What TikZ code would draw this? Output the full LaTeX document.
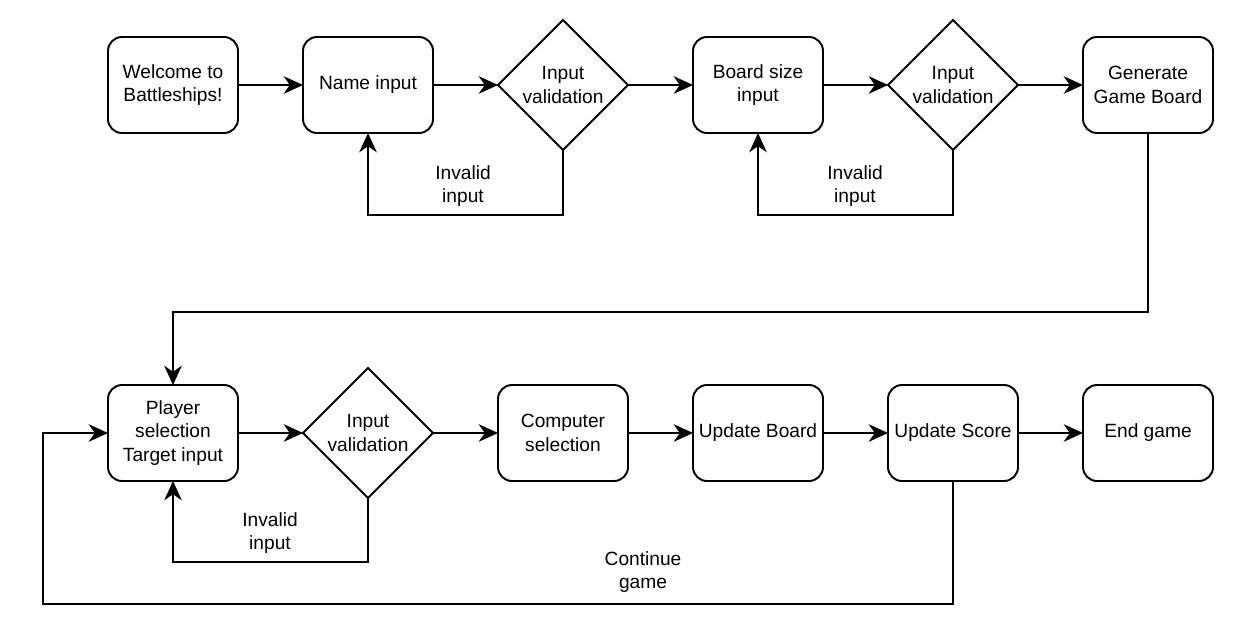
\documentclass[tikz,border=0pt]{standalone}
\usepackage{fontspec}
\setmainfont{Liberation Sans}
\usetikzlibrary{positioning}
\usetikzlibrary{shapes.geometric, arrows.meta}

\begin{document}
\begin{tikzpicture}[
  font=\fontsize{10.9}{13.6}\selectfont,
  line width=1.1pt,
  >={Stealth[length=11pt,width=10pt,inset=3.5pt]},
  stepbox/.style={draw, rounded corners=0.28cm, minimum width=2.6cm, minimum height=1.92cm, align=center, inner sep=0pt, outer sep=0pt},
  checkbox/.style={draw, diamond, minimum width=2.6cm, minimum height=2.6cm, align=center, inner sep=0pt, outer sep=0pt},
  link/.style={->},
  note/.style={align=center}
]
\useasboundingbox (0,0) rectangle (24.98,-12.7);

% first row
\node[stepbox] (welcome) at (3.46,-1.70) {Welcome to\\Battleships!};
\node[stepbox, right=1.3cm of welcome] (name) {Name input};
\node[checkbox, right=1.3cm of name] (valid1) {Input\\validation};
\node[stepbox, right=1.3cm of valid1] (size) {Board size\\input};
\node[checkbox, right=1.3cm of size] (valid2) {Input\\validation};
\node[stepbox, right=1.3cm of valid2] (board) {Generate\\Game Board};

% second row
\node[stepbox] (player) at (3.46,-8.66) {Player\\selection\\Target input};
\node[checkbox, right=1.3cm of player] (valid3) {Input\\validation};
\node[stepbox, right=1.3cm of valid3] (comp) {Computer\\selection};
\node[stepbox, right=1.3cm of comp] (upboard) {Update Board};
\node[stepbox, right=1.3cm of upboard] (upscore) {Update Score};
\node[stepbox, right=1.3cm of upscore] (endgame) {End game};

\draw[link] (welcome) -- (name);
\draw[link] (name) -- (valid1);
\draw[link] (valid1) -- (size);
\draw[link] (size) -- (valid2);
\draw[link] (valid2) -- (board);
\draw[link] (valid1.south) -- ++(0,-1.3) -| (name.south);
\draw[link] (valid2.south) -- ++(0,-1.3) -| (size.south);
\draw[link] (board.south) -- ++(0,-3.58) -| (player.north);

\draw[link] (player) -- (valid3);
\draw[link] (valid3) -- (comp);
\draw[link] (comp) -- (upboard);
\draw[link] (upboard) -- (upscore);
\draw[link] (upscore) -- (endgame);
\draw[link] (valid3.south) -- ++(0,-1.28) -| (player.south);
\draw[link] (upscore.south) -- ++(0,-2.46) -| ([xshift=-1.3cm]player.west) -- (player.west);

\node[note] (inv1) at (9.26,-3.72) {Invalid\\input};
\node[note] (inv2) at (17.10,-3.72) {Invalid\\input};
\node[note] (inv3) at (5.40,-10.66) {Invalid\\input};
\node[note] (cont) at (12.86,-11.44) {Continue\\game};

\end{tikzpicture}
\end{document}
